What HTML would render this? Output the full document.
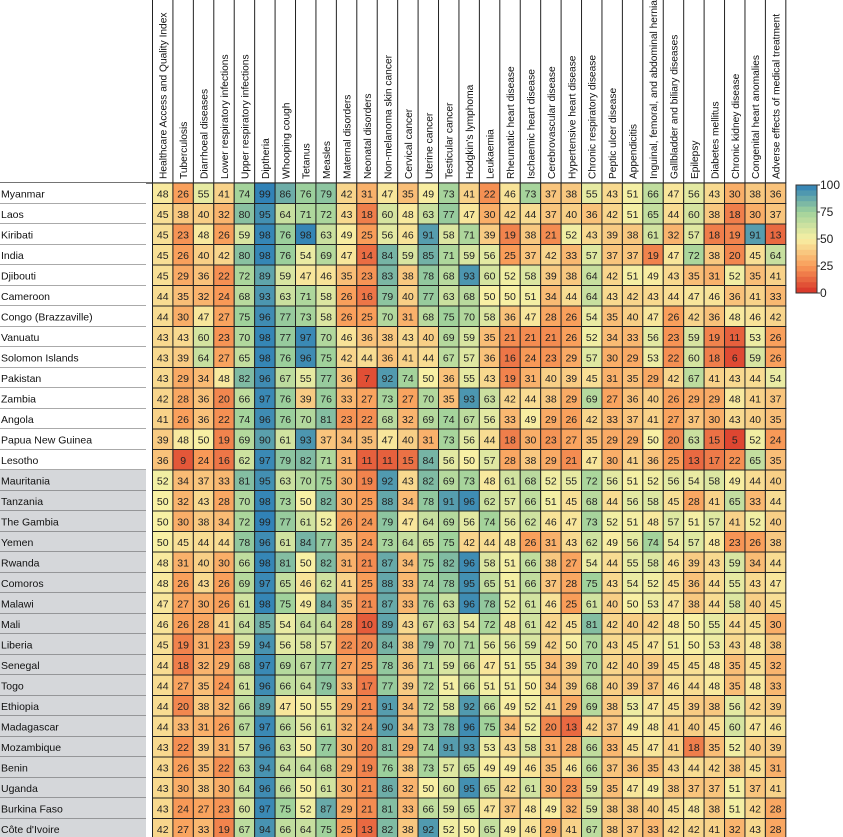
<!DOCTYPE html>
<html><head><meta charset="utf-8"><style>
html,body{margin:0;padding:0;background:#fff;width:843px;height:837px;overflow:hidden}
svg{display:block;font-family:"Liberation Sans",sans-serif}
</style></head><body>
<svg id="chart" width="843" height="837" viewBox="0 0 843 837" xmlns="http://www.w3.org/2000/svg"></svg>
<script>
const columns=["Healthcare Access and Quality Index","Tuberculosis","Diarrhoeal diseases","Lower respiratory infections","Upper respiratory infections","Diptheria","Whooping cough","Tetanus","Measles","Maternal disorders","Neonatal disorders","Non-melanoma skin cancer","Cervical cancer","Uterine cancer","Testicular cancer","Hodgkin's lymphoma","Leukaemia","Rheumatic heart disease","Ischaemic heart disease","Cerebrovascular disease","Hypertensive heart disease","Chronic respiratory disease","Peptic ulcer disease","Appendicitis","Inguinal, femoral, and abdominal hernia","Gallbladder and biliary diseases","Epilepsy","Diabetes mellitus","Chronic kidney disease","Congenital heart anomalies","Adverse effects of medical treatment"];
const countries=["Myanmar","Laos","Kiribati","India","Djibouti","Cameroon","Congo (Brazzaville)","Vanuatu","Solomon Islands","Pakistan","Zambia","Angola","Papua New Guinea","Lesotho","Mauritania","Tanzania","The Gambia","Yemen","Rwanda","Comoros","Malawi","Mali","Liberia","Senegal","Togo","Ethiopia","Madagascar","Mozambique","Benin","Uganda","Burkina Faso","Côte d'Ivoire"];
const values=[
[48,26,55,41,74,99,86,76,79,42,31,47,35,49,73,41,22,46,73,37,38,55,43,51,66,47,56,43,30,38,36],
[45,38,40,32,80,95,64,71,72,43,18,60,48,63,77,47,30,42,44,37,40,36,42,51,65,44,60,38,18,30,37],
[45,23,48,26,59,98,76,98,63,49,25,56,46,91,58,71,39,19,38,21,52,43,39,38,61,32,57,18,19,91,13],
[45,26,40,42,80,98,76,54,69,47,14,84,59,85,71,59,56,25,37,42,33,57,37,37,19,47,72,38,20,45,64],
[45,29,36,22,72,89,59,47,46,35,23,83,38,78,68,93,60,52,58,39,38,64,42,51,49,43,35,31,52,35,41],
[44,35,32,24,68,93,63,71,58,26,16,79,40,77,63,68,50,50,51,34,44,64,43,42,43,44,47,46,36,41,33],
[44,30,47,27,75,96,77,73,58,26,25,70,31,68,75,70,58,36,47,28,26,54,35,40,47,26,42,36,48,46,42],
[43,43,60,23,70,98,77,97,70,46,36,38,43,40,69,59,35,21,21,21,26,52,34,33,56,23,59,19,11,53,26],
[43,39,64,27,65,98,76,96,75,42,44,36,41,44,67,57,36,16,24,23,29,57,30,29,53,22,60,18,6,59,26],
[43,29,34,48,82,96,67,55,77,36,7,92,74,50,36,55,43,19,31,40,39,45,31,35,29,42,67,41,43,44,54],
[42,28,36,20,66,97,76,39,76,33,27,73,27,70,35,93,63,42,44,38,29,69,27,36,40,26,29,29,48,41,37],
[41,26,36,22,74,96,76,70,81,23,22,68,32,69,74,67,56,33,49,29,26,42,33,37,41,27,37,30,43,40,35],
[39,48,50,19,69,90,61,93,37,34,35,47,40,31,73,56,44,18,30,23,27,35,29,29,50,20,63,15,5,52,24],
[36,9,24,16,62,97,79,82,71,31,11,11,15,84,56,50,57,28,38,29,21,47,30,41,36,25,13,17,22,65,35],
[52,34,37,33,81,95,63,70,75,30,19,92,43,82,69,73,48,61,68,52,55,72,56,51,52,56,54,58,49,44,40],
[50,32,43,28,70,98,73,50,82,30,25,88,34,78,91,96,62,57,66,51,45,68,44,56,58,45,28,41,65,33,44],
[50,30,38,34,72,99,77,61,52,26,24,79,47,64,69,56,74,56,62,46,47,73,52,51,48,57,51,57,41,52,40],
[50,45,44,44,78,96,61,84,77,35,24,73,64,65,75,42,44,48,26,31,43,62,49,56,74,54,57,48,23,26,38],
[48,31,40,30,66,98,81,50,82,31,21,87,34,75,82,96,58,51,66,38,27,54,44,55,58,46,39,43,59,34,44],
[48,26,43,26,69,97,65,46,62,41,25,88,33,74,78,95,65,51,66,37,28,75,43,54,52,45,36,44,55,43,47],
[47,27,30,26,61,98,75,49,84,35,21,87,33,76,63,96,78,52,61,46,25,61,40,50,53,47,38,44,58,40,45],
[46,26,28,41,64,85,54,64,64,28,10,89,43,67,63,54,72,48,61,42,45,81,42,40,42,48,50,55,44,45,30],
[45,19,31,23,59,94,56,58,57,22,20,84,38,79,70,71,56,56,59,42,50,70,43,45,47,51,50,53,43,48,38],
[44,18,32,29,68,97,69,67,77,27,25,78,36,71,59,66,47,51,55,34,39,70,42,40,39,45,45,48,35,45,32],
[44,27,35,24,61,96,66,64,79,33,17,77,39,72,51,66,51,51,50,34,39,68,40,39,37,46,44,48,35,48,33],
[44,20,38,32,66,89,47,50,55,29,21,91,34,72,58,92,66,49,52,41,29,69,38,53,47,45,39,38,56,42,39],
[44,33,31,26,67,97,66,56,61,32,24,90,34,73,78,96,75,34,52,20,13,42,37,49,48,41,40,45,60,47,46],
[43,22,39,31,57,96,63,50,77,30,20,81,29,74,91,93,53,43,58,31,28,66,33,45,47,41,18,35,52,40,39],
[43,26,35,22,63,94,64,64,68,29,19,76,38,73,57,65,49,49,46,35,46,66,37,36,35,43,44,42,38,45,31],
[43,30,38,30,64,96,66,50,61,30,21,86,32,50,60,95,65,42,61,30,23,59,35,47,49,38,37,37,51,37,41],
[43,24,27,23,60,97,75,52,87,29,21,81,33,66,59,65,47,37,48,49,32,59,38,38,40,45,48,38,51,42,28],
[42,27,33,19,67,94,66,64,75,25,13,82,38,92,52,50,65,49,46,29,41,67,38,37,33,42,42,41,32,43,28]
];
const legendTicks=[100,75,50,25,0];

const NS="http://www.w3.org/2000/svg";
const svg=document.getElementById('chart');
const X0=152.5, CW=20.43, Y0=183, RH=20.5, LABW=146;
const xOf=c=>X0+c*CW, yOf=r=>Y0+r*RH;
const stops=[[0,[215,48,39]],[25,[249,157,89]],[50,[248,240,164]],[75,[160,210,155]],[100,[44,127,184]]];
function color(v){
  for(let i=0;i<stops.length-1;i++){const a=stops[i],b=stops[i+1];
    if(v<=b[0]){const t=(v-a[0])/(b[0]-a[0]);const c=a[1].map((x,k)=>Math.round(x+(b[1][k]-x)*t));return `rgb(${c})`;}}
  return 'rgb(44,127,184)';
}
function mk(tag,attrs,parent){const e=document.createElementNS(NS,tag);for(const k in attrs)e.setAttribute(k,attrs[k]);(parent||svg).appendChild(e);return e;}

const hdr=mk('g',{});


columns.forEach((name,c)=>{
  const cx=xOf(c)+CW/2+4;
  const t=mk('text',{x:0,y:0,transform:`translate(${cx},${Y0-4}) rotate(-90)`,'font-size':'10.2',fill:'#111'},hdr);
  t.textContent=name;
  
  
});
for(let c=0;c<=columns.length;c++){mk('line',{x1:xOf(c),x2:xOf(c),y1:0,y2:Y0,stroke:'#222','stroke-width':1},hdr);}
mk('line',{x1:0,x2:xOf(columns.length),y1:Y0,y2:Y0,stroke:'#222','stroke-width':1.2},hdr);

countries.forEach((name,r)=>{
  const y=yOf(r);
  const g=mk('g',{});
  
  
  mk('rect',{x:0,y:y,width:LABW,height:RH,fill:r>=14?'#d5d7da':'#fff'},g);
  mk('line',{x1:0,x2:LABW,y1:y+RH,y2:y+RH,stroke:'#555','stroke-width':1},g);
  const t=mk('text',{x:1,y:y+RH/2+4,'font-size':'10.5',fill:'#111'},g);
  t.textContent=name;
});

const cells=mk('g',{});


values.forEach((row,r)=>{row.forEach((v,c)=>{
  const rect=mk('rect',{x:xOf(c),y:yOf(r),width:CW,height:RH,fill:color(v),stroke:'#222','stroke-width':1},cells);
  
  
  const t=mk('text',{x:xOf(c)+CW/2,y:yOf(r)+RH/2+4,'text-anchor':'middle','font-size':'10.5',fill:'#222'},cells);
  t.textContent=v;
});});

const cb=mk('g',{});


const CBX=796,CBY=185,CBW=21,CBH=108;
const steps=20;
for(let i=0;i<steps;i++){
  const v=100-(i+0.5)*100/steps;
  mk('rect',{x:CBX,y:CBY+i*CBH/steps,width:CBW,height:CBH/steps+0.5,fill:color(v)},cb);
}
mk('rect',{x:CBX,y:CBY,width:CBW,height:CBH,fill:'none',stroke:'#333','stroke-width':1},cb);
legendTicks.forEach(v=>{
  const y=CBY+(100-v)/100*CBH;
  mk('line',{x1:CBX+CBW,x2:CBX+CBW+3,y1:y,y2:y,stroke:'#333'},cb);
  const t=mk('text',{x:CBX+CBW+3,y:y+4,'font-size':'12',fill:'#222'},cb);
  t.textContent=v;
  
  
});
</script>
</body></html>
